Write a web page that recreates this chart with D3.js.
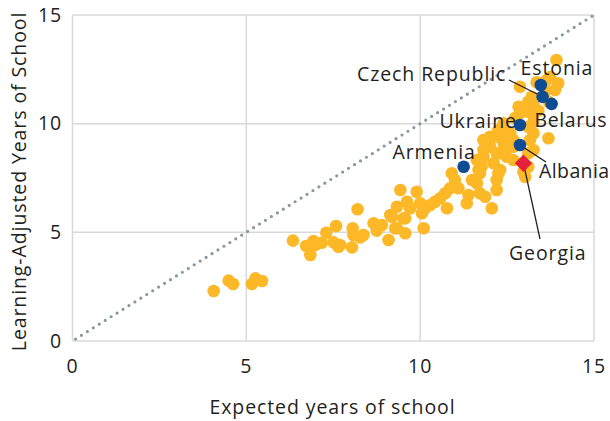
<!DOCTYPE html>
<html><head><meta charset="utf-8">
<script src="https://cdn.jsdelivr.net/npm/d3@7"></script>
<style>
html,body{margin:0;padding:0;background:#fff;}
text{font-family:"Open Sans",sans-serif;fill:#231f20;font-size:19.5px;letter-spacing:0.9px;}
</style></head>
<body><svg id="c" width="610" height="421"></svg>
<script>
const xTicks = [0,5,10,15];
const yTicks = [0,5,10,15];
const xTitle = "Expected years of school";
const yTitle = "Learning-Adjusted Years of School";

// Other countries: [expected years, learning-adjusted years]
const others = [
[4.06,2.30],[4.49,2.78],[4.62,2.62],[5.16,2.62],[5.26,2.88],[5.45,2.76],
[6.34,4.62],[6.72,4.37],[6.84,3.96],[6.93,4.60],[6.98,4.42],[7.17,4.52],[7.30,4.98],[7.51,4.54],[7.58,5.29],[7.65,4.34],[7.70,4.42],
[8.04,4.31],[8.06,5.19],[8.08,4.88],[8.20,6.06],[8.28,4.77],[8.37,4.88],[8.66,5.42],[8.75,5.08],[8.90,5.34],[9.09,4.65],[9.19,5.72],
[9.33,5.19],[9.33,6.18],[9.43,6.95],[9.28,5.19],[9.57,4.96],[9.57,5.65],[9.62,6.41],[9.71,6.11],[9.14,5.80],[9.52,5.65],
[9.90,6.87],[10.0,6.34],[10.10,5.19],[10.05,5.88],[10.14,6.11],[10.29,6.26],[10.43,6.41],[10.57,6.57],[10.72,6.80],[10.77,6.11],
[10.86,7.03],[10.91,7.72],[11.0,7.41],[11.10,7.03],[11.34,6.34],[11.39,6.72],[11.49,7.41],[11.63,7.26],[11.72,7.72],[11.72,6.80],
[11.77,8.02],[11.82,8.48],[11.87,6.64],[11.92,8.94],[12.06,6.11],[12.11,8.18],[12.16,9.40],[12.20,6.95],[12.20,7.41],[12.25,7.72],
[12.30,8.64],[12.01,9.40],[12.40,9.10],
[13.92,12.93],[13.69,9.33],[13.97,11.86],[13.88,11.55],[13.64,12.01],[13.74,12.16],[13.21,11.24],[13.11,11.01],[13.26,10.86],
[13.11,10.55],[13.26,10.40],[12.83,10.78],[12.87,10.48],[13.26,10.09],[13.11,9.86],[13.26,9.56],[13.16,9.25],[13.26,8.79],[13.11,8.64],
[12.68,9.25],[12.59,9.56],[12.68,8.94],[12.44,9.25],[12.44,8.79],[12.01,9.33],[12.01,8.94],[11.82,9.25],[12.68,8.33],[12.49,8.48],
[12.97,7.79],[13.02,7.55],[12.87,11.70],[12.73,10.26],[13.11,8.02],[11.63,8.33],[11.82,8.79],[11.68,7.87],[12.20,8.64],[12.30,7.87],
[12.25,9.71],[12.40,10.02],[12.49,9.56],[13.35,11.90],[13.60,11.50],[13.70,11.00],[13.40,10.60]
];

// Highlighted countries
const highlighted = [
{name:"Estonia", x:13.47, y:11.78},
{name:"Czech Republic", x:13.52, y:11.24},
{name:"Belarus", x:13.78, y:10.91},
{name:"Ukraine", x:12.87, y:9.94},
{name:"Albania", x:12.87, y:9.02},
{name:"Armenia", x:11.25, y:8.02}
];
const georgia = {name:"Georgia", x:12.97, y:8.18};

const svg = d3.select("#c");
const x = d3.scaleLinear().domain([0,15]).range([72.5,594]);
const y = d3.scaleLinear().domain([0,15]).range([341,15]);
const grid = "#d9d9d9";

// grid
svg.append("g").selectAll("line").data(yTicks.filter(d=>d>0)).join("line")
  .attr("x1",x(0)).attr("x2",x(15)).attr("y1",d=>y(d)).attr("y2",d=>y(d))
  .attr("stroke",grid).attr("stroke-width",1.5);
svg.append("g").selectAll("line").data(xTicks.filter(d=>d>0)).join("line")
  .attr("y1",y(0)).attr("y2",y(15)).attr("x1",d=>x(d)).attr("x2",d=>x(d))
  .attr("stroke",grid).attr("stroke-width",1.5);
svg.append("line").attr("x1",x(0)).attr("x2",x(0)).attr("y1",y(0)).attr("y2",y(15)).attr("stroke",grid).attr("stroke-width",1.5);
svg.append("line").attr("x1",x(0)).attr("x2",x(15)).attr("y1",y(0)).attr("y2",y(0)).attr("stroke",grid).attr("stroke-width",1.5);

// tick labels
svg.append("g").selectAll("text").data(yTicks).join("text")
  .attr("x",62).attr("y",d=>y(d)).attr("dy","0.35em").attr("text-anchor","end").text(d=>d);
svg.append("g").selectAll("text").data(xTicks).join("text")
  .attr("x",d=>x(d)).attr("y",366).attr("dy","0.35em").attr("text-anchor","middle").text(d=>d);

// titles
svg.append("text").attr("x",332.5).attr("y",407.5).attr("dy","0.35em").attr("text-anchor","middle").text(xTitle);
svg.append("text").attr("transform","translate(19.5,181.5) rotate(-90)").attr("dy","0.35em").attr("text-anchor","middle").text(yTitle);

// 45-degree line
svg.append("line").attr("x1",x(0)+3).attr("y1",y(0)-2).attr("x2",x(15)).attr("y2",y(15))
  .attr("stroke","#8a97a1").attr("stroke-width",3.2).attr("stroke-linecap","round").attr("stroke-dasharray","0,7");

const R = 6.3;
svg.append("g").selectAll("circle").data(others).join("circle")
  .attr("cx",d=>x(d[0])).attr("cy",d=>y(d[1])).attr("r",R).attr("fill","#fdb827");

// leader lines
const leaders = [
  {c:"Czech Republic", x1:509, y1:80},
  {c:"Albania", x1:546, y1:162},
];
leaders.forEach(l=>{
  const h = highlighted.find(d=>d.name===l.c);
  svg.append("line").attr("x1",l.x1).attr("y1",l.y1).attr("x2",x(h.x)).attr("y2",y(h.y))
    .attr("stroke","#231f20").attr("stroke-width",1.3);
});
svg.append("line").attr("x1",x(georgia.x)).attr("y1",y(georgia.y)).attr("x2",540).attr("y2",239)
  .attr("stroke","#231f20").attr("stroke-width",1.3);

svg.append("g").selectAll("circle").data(highlighted).join("circle")
  .attr("cx",d=>x(d.x)).attr("cy",d=>y(d.y)).attr("r",R).attr("fill","#0f4c92");
svg.append("path").attr("d",d3.symbol(d3.symbolSquare, 150)())
  .attr("transform",`translate(${x(georgia.x)},${y(georgia.y)}) rotate(45)`).attr("fill","#e8213a");

// labels (left x, cap-centre y, letter-spacing)
const labelPos = {
  "Estonia":[520.5,68,0.9],
  "Czech Republic":[357,74,0.9],
  "Belarus":[534.5,120.5,0.6],
  "Ukraine":[439.5,121,0.9],
  "Albania":[539,171,0.4],
  "Armenia":[392.5,151.7,0.9],
  "Georgia":[509,253,0.9]
};
Object.entries(labelPos).forEach(([k,p])=>{
  svg.append("text").attr("x",p[0]).attr("y",p[1]).attr("dy","0.35em").attr("text-anchor","start")
    .style("letter-spacing",p[2]+"px").text(k);
});
</script></body></html>
